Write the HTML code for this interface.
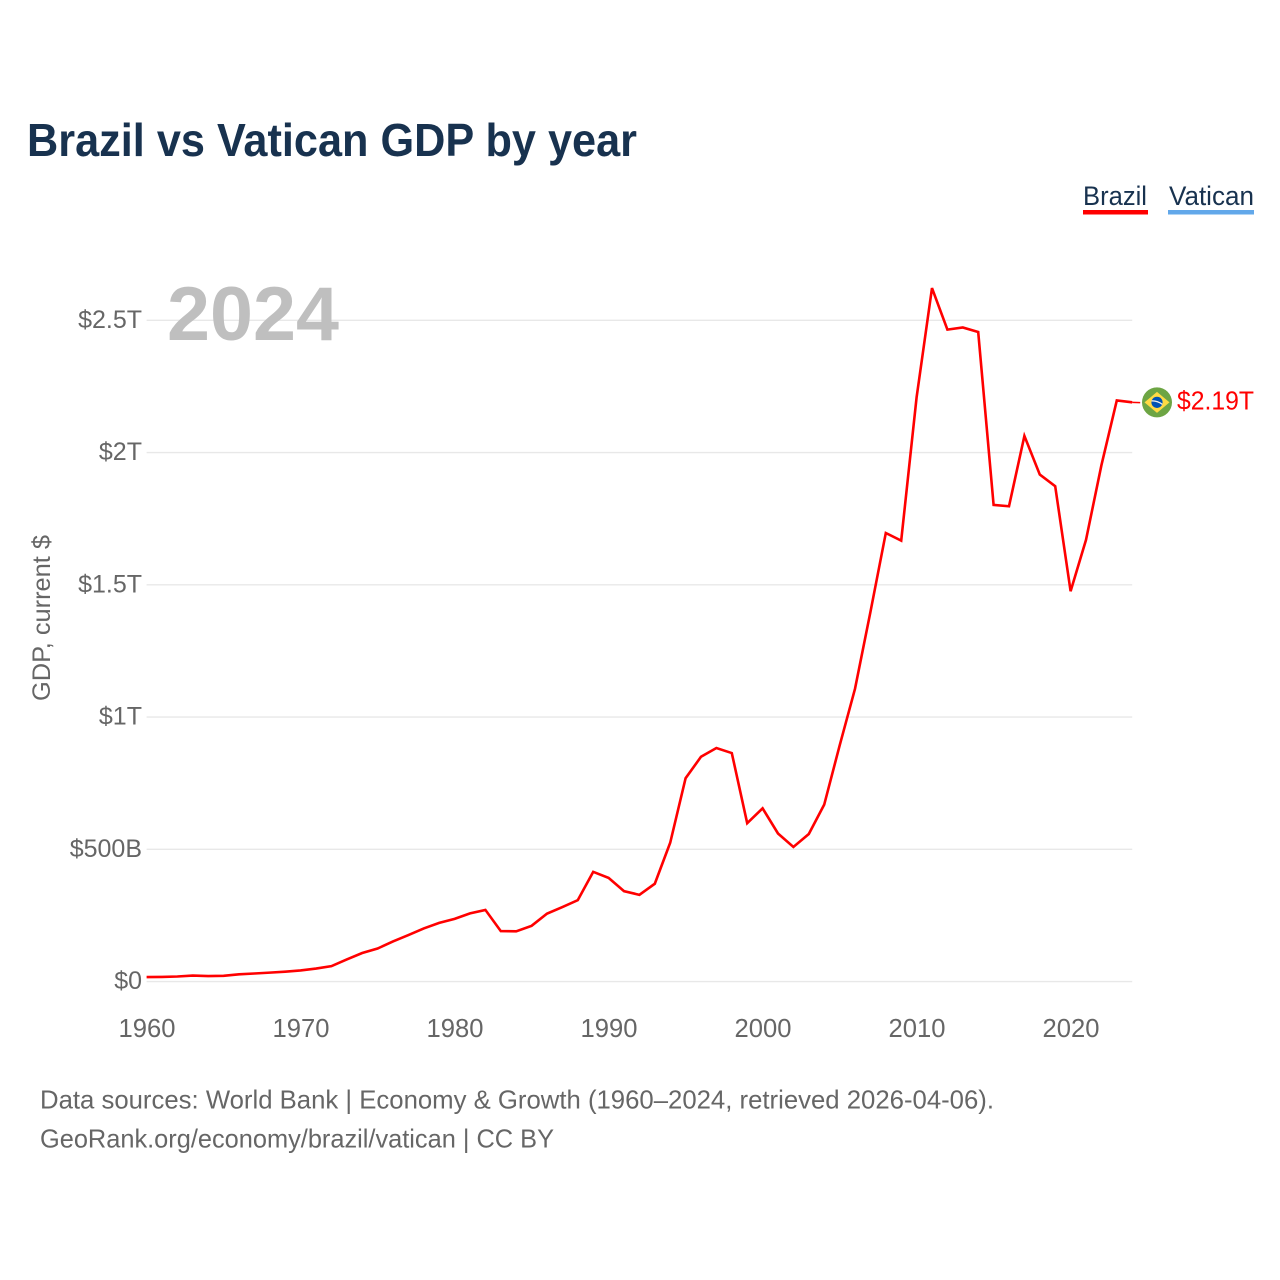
<!DOCTYPE html>
<html lang="en">
<head>
<meta charset="utf-8">
<title>Brazil vs Vatican GDP by year</title>
<style>
html,body{margin:0;padding:0;background:#fff;width:1280px;height:1280px;overflow:hidden}
svg{display:block;font-family:"Liberation Sans",sans-serif}
</style>
</head>
<body>
<svg id="chart" width="1280" height="1280" viewBox="0 0 1280 1280" xmlns="http://www.w3.org/2000/svg">
  <text x="27" y="156" font-size="46" font-weight="700" fill="#18324f" textLength="610" lengthAdjust="spacingAndGlyphs">Brazil vs Vatican GDP by year</text>

  <g>
    <text x="1083" y="205" font-size="27" fill="#18324f" textLength="64" lengthAdjust="spacingAndGlyphs">Brazil</text>
    <rect x="1083" y="210" width="65" height="4.5" fill="#ff0000"/>
  </g>
  <g>
    <text x="1169" y="205" font-size="27" fill="#18324f" textLength="85" lengthAdjust="spacingAndGlyphs">Vatican</text>
    <rect x="1168" y="210" width="86" height="4.5" fill="#62a8ea"/>
  </g>

  <g id="grid"></g>
  <g id="yticks"></g>
  <g id="xticks"></g>

  <text x="167" y="340" font-size="76" font-weight="700" fill="#bfbfbf" textLength="172" lengthAdjust="spacingAndGlyphs">2024</text>

  <text transform="translate(50,618) rotate(-90)" text-anchor="middle" font-size="25" fill="#666666" textLength="166" lengthAdjust="spacingAndGlyphs">GDP, current $</text>

  <path id="brazil-line" fill="none" stroke="#ff0000" stroke-width="2.6" stroke-linejoin="miter"/>
  <path id="end-connector" fill="none" stroke="#ff0000" stroke-width="1.5"/>

  <g id="flag">
    <circle cx="0" cy="0" r="15" fill="#6da544"/>
    <polygon points="0,-10.5 12.5,0 0,10.5 -12.5,0" fill="#ffda44"/>
    <circle cx="0" cy="0" r="5.6" fill="#0052b4"/>
    <path d="M-5.4,-1.4 Q0,-1.8 5.3,2" fill="none" stroke="#f0f0f0" stroke-width="1.3"/>
  </g>
  <text id="end-label" x="1177" font-size="26" fill="#ff0000" textLength="77" lengthAdjust="spacingAndGlyphs"></text>

  <text x="40" y="1108.5" font-size="26" fill="#666666" textLength="954" lengthAdjust="spacingAndGlyphs">Data sources: World Bank | Economy &amp; Growth (1960–2024, retrieved 2026-04-06).</text>
  <text x="40" y="1147.5" font-size="26" fill="#666666" textLength="514" lengthAdjust="spacingAndGlyphs">GeoRank.org/economy/brazil/vatican | CC BY</text>
</svg>

<script>
// GDP in billions of current US$
const startYear = 1960;
const brazilGdp = [
  17, 17.5, 19.3, 23, 21, 21.8, 27.6, 30.6, 33.9, 37.5,
  42.3, 49.2, 58.5, 84, 108, 125, 152, 176, 201, 222,
  237, 258, 271, 191, 190, 211, 257, 282, 308, 415,
  392, 342, 328, 370, 525, 769, 850, 883, 864, 599,
  655, 560, 509, 558, 669, 892, 1107, 1397, 1696, 1667,
  2209, 2622, 2465, 2473, 2456, 1802, 1797, 2063, 1917, 1873,
  1476, 1670, 1952, 2197, 2190
];
const yTickValues = [0, 500, 1000, 1500, 2000, 2500];
const yTickLabels = ["$0", "$500B", "$1T", "$1.5T", "$2T", "$2.5T"];
const xTickYears = [1960, 1970, 1980, 1990, 2000, 2010, 2020];
const endValueLabel = "$2.19T";

const NS = "http://www.w3.org/2000/svg";
const xScale = function (year) { return 146.6 + (year - 1960) * 15.4; };
const yScale = function (billions) { return 981.6 - billions * 0.2645; };

const grid = document.getElementById("grid");
const yticks = document.getElementById("yticks");
const xticks = document.getElementById("xticks");

yTickValues.forEach(function (v, i) {
  const line = document.createElementNS(NS, "line");
  
  
  line.setAttribute("x1", 146.6);
  line.setAttribute("x2", 1132.2);
  line.setAttribute("y1", yScale(v));
  line.setAttribute("y2", yScale(v));
  line.setAttribute("stroke", "#e8e8e8");
  line.setAttribute("stroke-width", "1.4");
  grid.appendChild(line);

  const label = document.createElementNS(NS, "text");
  
  
  label.setAttribute("x", 142);
  label.setAttribute("y", yScale(v) + 7.6);
  label.setAttribute("text-anchor", "end");
  label.setAttribute("font-size", "25");
  label.setAttribute("fill", "#666666");
  label.textContent = yTickLabels[i];
  yticks.appendChild(label);
});

xTickYears.forEach(function (year) {
  const label = document.createElementNS(NS, "text");
  
  
  label.setAttribute("x", xScale(year) + 0.4);
  label.setAttribute("y", 1037);
  label.setAttribute("text-anchor", "middle");
  label.setAttribute("font-size", "25.6");
  label.setAttribute("fill", "#666666");
  label.textContent = String(year);
  xticks.appendChild(label);
});

const points = brazilGdp.map(function (v, i) {
  return xScale(startYear + i).toFixed(2) + "," + yScale(v).toFixed(2);
});
document.getElementById("brazil-line").setAttribute("d", "M" + points.join("L"));

const lastIndex = brazilGdp.length - 1;
const endX = xScale(startYear + lastIndex);
const endY = yScale(brazilGdp[lastIndex]);
document.getElementById("end-connector").setAttribute("d", "M" + endX + "," + endY + "L" + (endX + 8) + "," + (endY + 0.3));
document.getElementById("flag").setAttribute("transform", "translate(" + (endX + 24.8) + "," + endY + ")");
const endLabel = document.getElementById("end-label");
endLabel.setAttribute("y", endY + 7);
endLabel.textContent = endValueLabel;
</script>
</body>
</html>
